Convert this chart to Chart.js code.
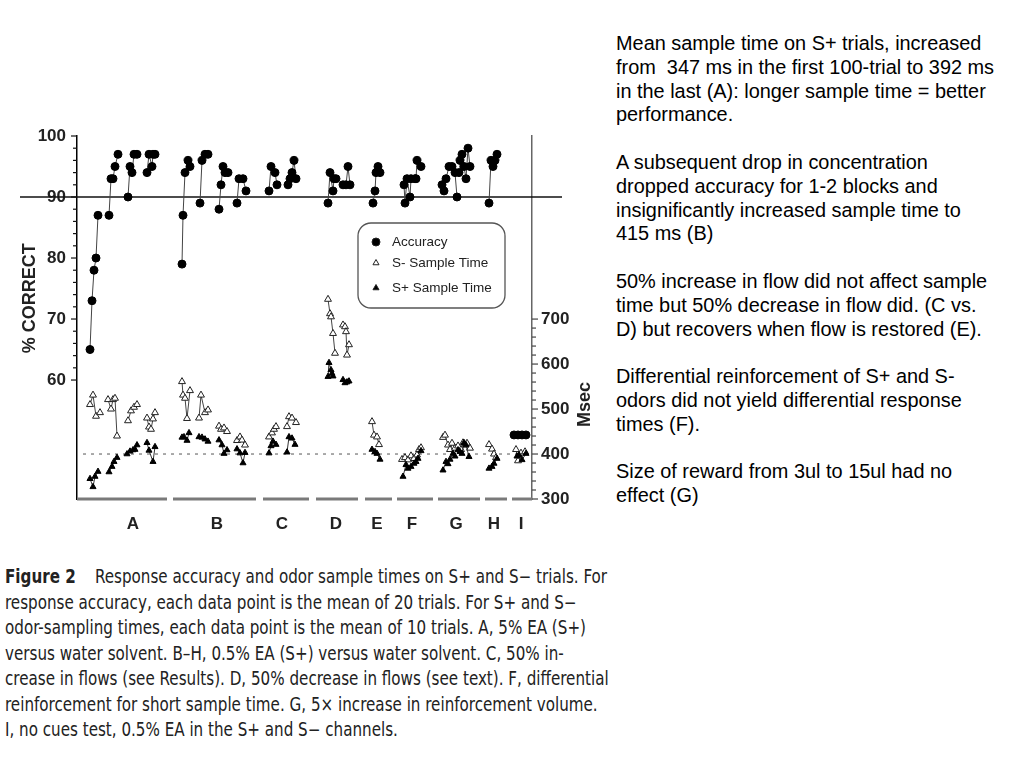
<!DOCTYPE html>
<html>
<head>
<meta charset="utf-8">
<script src="https://cdn.jsdelivr.net/npm/chart.js@4.4.0/dist/chart.umd.min.js"></script>
<style>
  html, body { margin: 0; padding: 0; background: #fff; }
  body { width: 1024px; height: 768px; position: relative; overflow: hidden; }
  #wrap { position: absolute; left: 0; top: 100px; width: 610px; height: 450px; }
  #notes {
    position: absolute; left: 616px; top: 32px;
    font-family: "Liberation Sans", Arial, sans-serif;
    font-size: 19.9px; line-height: 23.8px; color: #000; white-space: nowrap;
  }
  #notes p { margin: 0 0 23.8px 0; }
  #caption {
    position: absolute; left: 5px; top: 564px;
    font-family: "Liberation Sans Narrow", "DejaVu Sans Condensed", sans-serif;
    font-size: 19px; line-height: 25.5px; color: #222; white-space: nowrap;
    transform: scaleX(0.886); transform-origin: 0 0;
  }
</style>
</head>
<body>
<div id="wrap"><canvas id="chart"></canvas></div>

<div id="notes">
  <p>Mean sample time on S+ trials, increased<br>from&nbsp; 347 ms in the first 100-trial to 392 ms<br>in the last (A): longer sample time = better<br>performance.</p>
  <p>A subsequent drop in concentration<br>dropped accuracy for 1-2 blocks and<br>insignificantly increased sample time to<br>415 ms (B)</p>
  <p>50% increase in flow did not affect sample<br>time but 50% decrease in flow did. (C vs.<br>D) but recovers when flow is restored (E).</p>
  <p>Differential reinforcement of S+ and S-<br>odors did not yield differential response<br>times (F).</p>
  <p>Size of reward from 3ul to 15ul had no<br>effect (G)</p>
</div>

<div id="caption">
  <div><b>Figure 2</b>&nbsp;&nbsp;&nbsp; Response accuracy and odor sample times on S+ and S− trials. For</div>
  <div>response accuracy, each data point is the mean of 20 trials. For S+ and S−</div>
  <div>odor-sampling times, each data point is the mean of 10 trials. A, 5% EA (S+)</div>
  <div>versus water solvent. B–H, 0.5% EA (S+) versus water solvent. C, 50% in-</div>
  <div>crease in flows (see Results). D, 50% decrease in flows (see text). F, differential</div>
  <div>reinforcement for short sample time. G, 5× increase in reinforcement volume.</div>
  <div>I, no cues test, 0.5% EA in the S+ and S− channels.</div>
</div>

<script>
// x = position along the run of blocks, sessions are separate little lines
const accuracy = [
  [[2.6, 65], [3.0, 73], [3.4, 78], [3.8, 80], [4.2, 87]],
  [[6.4, 87], [6.8, 93], [7.2, 93], [7.6, 95], [8.2, 97]],
  [[10.2, 90], [10.6, 95], [11.0, 94], [11.4, 97], [12.0, 97]],
  [[14.0, 94], [14.4, 97], [15.0, 95], [15.2, 97], [15.6, 97]],
  [[21.0, 79], [21.2, 87], [21.6, 94], [22.2, 96], [22.6, 95]],
  [[24.6, 89], [25.0, 96], [25.6, 97], [26.2, 97]],
  [[28.4, 88], [28.8, 92], [29.2, 95], [29.6, 94], [30.2, 94]],
  [[32.0, 89], [32.4, 93], [33.2, 93], [33.8, 91]],
  [[38.4, 91], [38.8, 95], [39.6, 94], [40.0, 92]],
  [[42.2, 92], [42.6, 93], [43.0, 94], [43.4, 96], [43.8, 93]],
  [[50.2, 89], [50.6, 94], [51.2, 91], [51.4, 93], [51.8, 93]],
  [[53.2, 92], [53.8, 92], [54.2, 95], [54.6, 92]],
  [[59.2, 89], [59.6, 91], [59.8, 94], [60.2, 95], [60.6, 94]],
  [[65.4, 92], [65.6, 89], [66.0, 93], [66.6, 90], [66.8, 93], [67.6, 93]],
  [[67.8, 93], [68.0, 96], [68.8, 95]],
  [[73.0, 92], [73.4, 91], [73.8, 93], [74.4, 95], [75.0, 95], [75.6, 94], [76.0, 90]],
  [[76.4, 94], [76.6, 96], [77.0, 97], [77.4, 95], [77.8, 93], [78.2, 98], [78.6, 95]],
  [[82.4, 89], [82.8, 96], [83.2, 95], [83.6, 96], [84.0, 97]],
  [[87.4, 51], [88.2, 51], [89.0, 51], [89.8, 51]]
];

const sMinus = [
  [[2.6, 510], [3.2, 531], [3.8, 484], [4.6, 492]],
  [[6.2, 521], [6.8, 500], [7.2, 521], [7.6, 524], [8.0, 440]],
  [[10.2, 474], [10.8, 496], [11.4, 504], [12.0, 510]],
  [[14.0, 480], [14.4, 460], [14.8, 455], [15.2, 478], [15.6, 492]],
  [[21.0, 561], [21.2, 531], [21.6, 524], [22.0, 479], [22.6, 541]],
  [[24.4, 480], [24.8, 531], [25.6, 492], [26.2, 498]],
  [[28.4, 462], [28.8, 455], [29.4, 458], [30.0, 450]],
  [[32.0, 430], [32.6, 438], [33.0, 431], [33.6, 420]],
  [[38.4, 438], [39.0, 447], [39.4, 455], [39.8, 461]],
  [[42.0, 461], [42.4, 483], [43.0, 480], [43.8, 470]],
  [[50.2, 744], [50.6, 712], [50.8, 705], [51.2, 668], [51.6, 624]],
  [[53.2, 687], [53.6, 683], [53.8, 672], [54.0, 620], [54.4, 643]],
  [[59.0, 472], [59.4, 442], [60.0, 438], [60.4, 421]],
  [[65.0, 388], [65.6, 392], [66.2, 387], [66.8, 396]],
  [[67.4, 390], [68.0, 398], [68.4, 410], [68.8, 414]],
  [[73.2, 437], [73.6, 442], [74.2, 420], [74.6, 410], [75.0, 424], [75.6, 413]],
  [[76.2, 418], [76.8, 410], [77.2, 425], [77.6, 420], [78.0, 424], [78.6, 413]],
  [[82.4, 421], [83.0, 411], [83.4, 400], [83.8, 392]],
  [[87.8, 410], [88.2, 385], [88.8, 402], [89.6, 405]]
];

const sPlus = [
  [[2.6, 345], [3.2, 327], [3.6, 350], [4.2, 361]],
  [[6.4, 360], [7.0, 372], [7.4, 383], [8.0, 392]],
  [[10.0, 400], [10.6, 406], [11.2, 409], [11.6, 410], [12.0, 420]],
  [[14.0, 425], [14.4, 408], [15.2, 383], [15.6, 416]],
  [[21.0, 437], [21.4, 438], [22.0, 430], [22.4, 447]],
  [[24.4, 438], [25.0, 437], [25.6, 433], [26.2, 428]],
  [[28.4, 431], [29.0, 420], [29.4, 401], [30.0, 409]],
  [[32.0, 411], [32.6, 402], [33.2, 380], [33.6, 403]],
  [[38.4, 402], [38.8, 418], [39.2, 428], [39.8, 421]],
  [[42.0, 404], [42.4, 438], [43.0, 435], [43.6, 421]],
  [[50.2, 572], [50.4, 603], [50.8, 587], [51.0, 579], [51.2, 573]],
  [[53.2, 565], [53.6, 558], [54.0, 560], [54.4, 562]],
  [[59.0, 410], [59.6, 405], [60.0, 401], [60.6, 388]],
  [[65.2, 350], [65.8, 376], [66.2, 368], [66.8, 372]],
  [[67.4, 379], [67.8, 383], [68.2, 390], [68.8, 407]],
  [[73.2, 364], [73.8, 383], [74.2, 378], [74.6, 388], [75.2, 401], [75.6, 395]],
  [[76.2, 409], [76.6, 405], [77.0, 401], [77.4, 425], [77.8, 420], [78.4, 394]],
  [[82.4, 368], [83.0, 372], [83.4, 379], [84.0, 390]],
  [[88.0, 395], [88.4, 398], [89.0, 387], [89.8, 401]]
];

const groupLabels = ["A", "B", "C", "D", "E", "F", "G", "H", "I"];
const groupCenters = [11.2, 28, 41, 51.8, 60, 67, 75.8, 83.4, 88.8];
const groupStart = [0, 19.2, 37.2, 47.8, 57.6, 64, 72.2, 81.6, 87];
const groupEnd = [18, 35.8, 46.4, 56.2, 63, 71.2, 80.6, 86, 91];

const accTicks = [60, 70, 80, 90, 100];
const msTicks = [300, 400, 500, 600, 700];

function flatten(sessions) {
  const out = [];
  sessions.forEach((s, i) => {
    if (i) out.push({ x: s[0][0], y: null });
    s.forEach(p => out.push({ x: p[0], y: p[1] }));
  });
  return out;
}

const LABEL_FONT = '"Liberation Sans", Arial, sans-serif';

const extras = {
  id: "extras",
  beforeDatasetsDraw(chart) {
    const { ctx, chartArea: a, scales: { x, y, y2 } } = chart;
    ctx.save();
    // 90% criterion line, runs past both axes
    const y90 = y.getPixelForValue(90);
    ctx.strokeStyle = "#111";
    ctx.lineWidth = 1.3;
    ctx.beginPath();
    ctx.moveTo(a.left - 57, y90);
    ctx.lineTo(a.right + 30, y90);
    ctx.stroke();

    // 400 ms dashed line
    const y400 = y2.getPixelForValue(400);
    ctx.setLineDash([3, 5]);
    ctx.strokeStyle = "#555";
    ctx.lineWidth = 1;
    ctx.beginPath();
    ctx.moveTo(a.left + 6, y400);
    ctx.lineTo(a.right - 2, y400);
    ctx.stroke();
    ctx.setLineDash([]);

    // condition bars under the plot
    ctx.strokeStyle = "#7a7a7a";
    ctx.lineWidth = 3;
    groupStart.forEach((s, i) => {
      ctx.beginPath();
      ctx.moveTo(x.getPixelForValue(s), a.bottom);
      ctx.lineTo(x.getPixelForValue(groupEnd[i]), a.bottom);
      ctx.stroke();
    });

    // tick marks
    ctx.lineWidth = 1.2;
    ctx.strokeStyle = "#111";
    for (let v = 60; v <= 100; v += 2) {
      const py = y.getPixelForValue(v);
      const len = v % 10 === 0 ? 6 : 4;
      ctx.beginPath();
      ctx.moveTo(a.left - len, py);
      ctx.lineTo(a.left, py);
      ctx.stroke();
    }
    ctx.strokeStyle = "#444";
    for (let v = 300; v <= 700; v += 20) {
      const py = y2.getPixelForValue(v);
      const len = v % 100 === 0 ? 6 : 4;
      ctx.beginPath();
      ctx.moveTo(a.right, py);
      ctx.lineTo(a.right + len, py);
      ctx.stroke();
    }
    ctx.restore();
  },
  afterDraw(chart) {
    const { ctx, chartArea: a, scales: { y, y2 } } = chart;
    ctx.save();
    // axis titles
    ctx.fillStyle = "#222";
    ctx.font = "bold 18px " + LABEL_FONT;
    ctx.textAlign = "center";
    ctx.textBaseline = "middle";
    ctx.translate(30, y.getPixelForValue(73.4));
    ctx.rotate(-Math.PI / 2);
    ctx.fillText("% CORRECT", 0, 0);
    ctx.restore();

    ctx.save();
    ctx.fillStyle = "#222";
    ctx.font = "bold 18px " + LABEL_FONT;
    ctx.textAlign = "center";
    ctx.textBaseline = "middle";
    ctx.translate(a.right + 53, y2.getPixelForValue(510));
    ctx.rotate(-Math.PI / 2);
    ctx.fillText("Msec", 0, 0);
    ctx.restore();

    // legend box
    ctx.save();
    const bx = 358, by = 123, bw = 147, bh = 85;
    ctx.strokeStyle = "#555";
    ctx.lineWidth = 1.3;
    ctx.beginPath();
    ctx.roundRect(bx, by, bw, bh, 13);
    ctx.stroke();
    const items = [
      { label: "Accuracy", style: "circle", fill: "#000", r: 4 },
      { label: "S- Sample Time", style: "triangle", fill: "#fff", r: 3.5 },
      { label: "S+ Sample Time", style: "triangle", fill: "#000", r: 3.5 }
    ];
    const rows = [142, 163, 188];
    ctx.font = "13.5px " + LABEL_FONT;
    ctx.textBaseline = "middle";
    items.forEach((it, i) => {
      ctx.fillStyle = it.fill;
      ctx.strokeStyle = "#222";
      ctx.lineWidth = 1;
      Chart.helpers.drawPoint(ctx, { pointStyle: it.style, radius: it.r, borderWidth: 1 }, 376, rows[i]);
      ctx.fillStyle = "#222";
      ctx.fillText(it.label, 392, rows[i]);
    });
    ctx.restore();
  }
};

new Chart(document.getElementById("chart"), {
  type: "line",
  plugins: [extras],
  data: {
    datasets: [
      {
        label: "Accuracy",
        data: flatten(accuracy),
        yAxisID: "y",
        borderColor: "#444",
        borderWidth: 1,
        pointStyle: "circle",
        pointRadius: 4,
        pointBackgroundColor: "#000",
        pointBorderColor: "#000",
        pointBorderWidth: 1
      },
      {
        label: "S+ Sample Time",
        data: flatten(sPlus),
        yAxisID: "y2",
        borderColor: "#333",
        borderWidth: 1,
        pointStyle: "triangle",
        pointRadius: 3.5,
        pointBackgroundColor: "#000",
        pointBorderColor: "#000",
        pointBorderWidth: 1
      },
      {
        label: "S- Sample Time",
        data: flatten(sMinus),
        yAxisID: "y2",
        borderColor: "#444",
        borderWidth: 1,
        pointStyle: "triangle",
        pointRadius: 4,
        pointBackgroundColor: "#fff",
        pointBorderColor: "#222",
        pointBorderWidth: 1
      }
    ]
  },
  options: {
    responsive: true,
    maintainAspectRatio: false,
    animation: false,
    spanGaps: false,
    layout: { padding: { top: 36, left: 0, right: 0, bottom: 0 } },
    plugins: { legend: { display: false }, tooltip: { enabled: false } },
    scales: {
      x: {
        type: "linear",
        min: 0,
        max: 91,
        afterFit: s => { s.height = 51; },
        afterBuildTicks: s => { s.ticks = groupCenters.map(v => ({ value: v })); },
        grid: { display: false },
        border: { display: false },
        ticks: {
          autoSkip: false,
          maxRotation: 0,
          padding: 7,
          color: "#222",
          font: { family: LABEL_FONT, size: 17, weight: "bold" },
          callback: (v, i) => groupLabels[i]
        }
      },
      y: {
        position: "left",
        min: 40.5,
        max: 100,
        afterFit: s => { s.width = 77; },
        afterBuildTicks: s => { s.ticks = accTicks.map(v => ({ value: v })); },
        grid: { display: false, drawTicks: false },
        border: { display: true, color: "#000", width: 1.5 },
        ticks: {
          padding: 11,
          color: "#222",
          font: { family: LABEL_FONT, size: 17, weight: "bold" }
        }
      },
      y2: {
        position: "right",
        min: 300,
        max: 1107,
        afterFit: s => { s.width = 78; },
        afterBuildTicks: s => { s.ticks = msTicks.map(v => ({ value: v })); },
        grid: { display: false, drawTicks: false },
        border: { display: true, color: "#666", width: 1.5 },
        ticks: {
          padding: 9,
          color: "#222",
          font: { family: LABEL_FONT, size: 17, weight: "bold" }
        }
      }
    }
  }
});
</script>
</body>
</html>
